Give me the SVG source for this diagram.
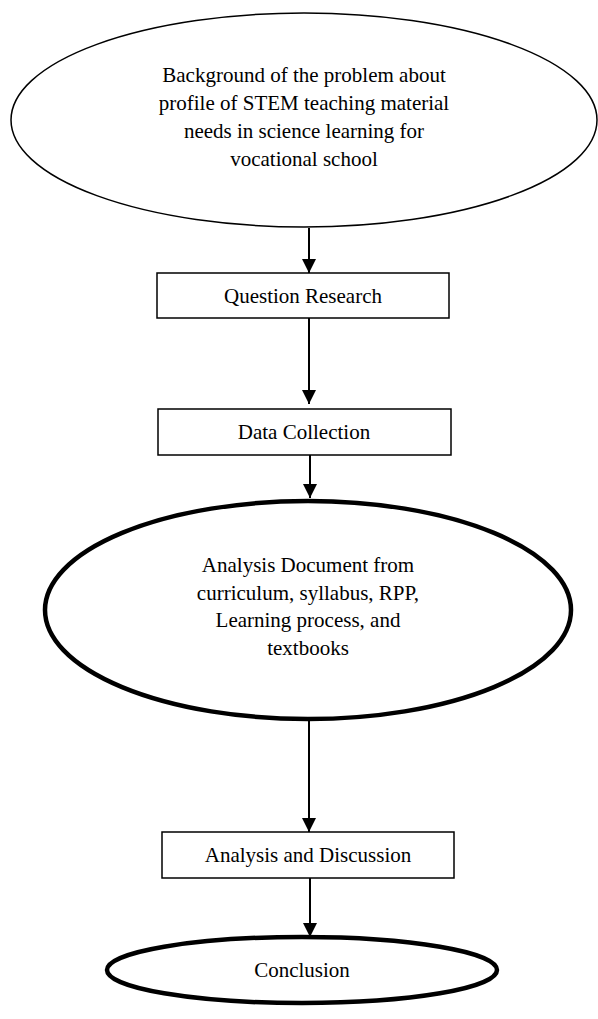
<svg xmlns="http://www.w3.org/2000/svg" width="598" height="1019" viewBox="0 0 598 1019">
<style>
text{font-family:"Liberation Serif","Times New Roman",serif;font-size:21px;fill:#000;text-anchor:middle}
.thin{fill:#fff;stroke:#000;stroke-width:1.5}
.box{fill:#fff;stroke:#000;stroke-width:1.5}
.thick{fill:#fff;stroke:#000;stroke-width:4.5}
.edge{stroke:#000;stroke-width:2;fill:none;marker-end:url(#ah)}
</style>
<defs>
<marker id="ah" markerUnits="userSpaceOnUse" markerWidth="14" markerHeight="14" viewBox="0 0 14 14" refX="14" refY="7" orient="auto">
<path d="M0,0 L14,7 L0,14 Z" fill="#000"/>
</marker>
</defs>
<g id="connectors">
<line class="edge" x1="309" y1="228" x2="309" y2="273"/>
<line class="edge" x1="309" y1="318" x2="309" y2="404"/>
<line class="edge" x1="310" y1="455" x2="310" y2="498"/>
<line class="edge" x1="309" y1="720" x2="309" y2="832"/>
<line class="edge" x1="310" y1="878" x2="310" y2="937"/>
</g>
<g id="background">
<ellipse class="thin" cx="304" cy="120" rx="293" ry="107"/>
<text x="304" y="82">Background of the problem about</text>
<text x="304" y="110">profile of STEM teaching material</text>
<text x="304" y="138">needs in science learning for</text>
<text x="304" y="166">vocational school</text>
</g>
<g id="question">
<rect class="box" x="157" y="273" width="292" height="45"/>
<text x="303" y="303">Question Research</text>
</g>
<g id="data">
<rect class="box" x="158" y="409" width="293" height="46"/>
<text x="304" y="439">Data Collection</text>
</g>
<g id="analysis-doc">
<ellipse class="thick" cx="308" cy="610" rx="263" ry="109"/>
<text x="308" y="572">Analysis Document from</text>
<text x="308" y="600">curriculum, syllabus, RPP,</text>
<text x="308" y="627">Learning process, and</text>
<text x="308" y="655">textbooks</text>
</g>
<g id="discussion">
<rect class="box" x="162" y="832" width="292" height="46"/>
<text x="308" y="862">Analysis and Discussion</text>
</g>
<g id="conclusion">
<ellipse class="thick" cx="302" cy="970" rx="195" ry="33"/>
<text x="302" y="977">Conclusion</text>
</g>
</svg>
